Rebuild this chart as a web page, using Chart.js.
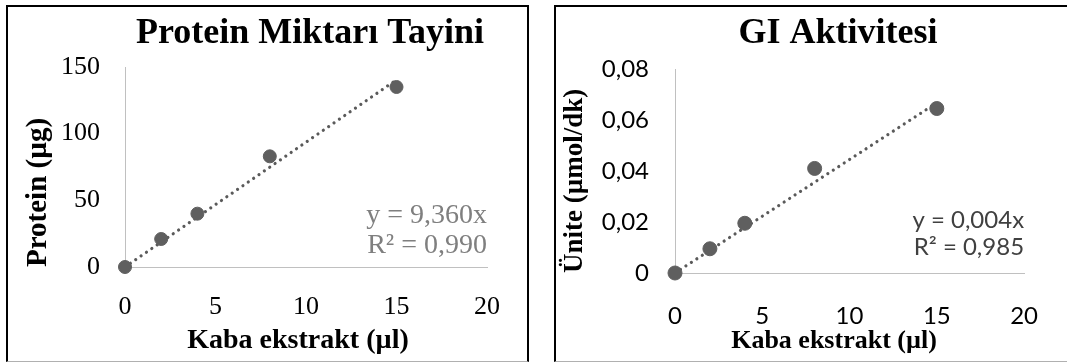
<!DOCTYPE html>
<html><head><meta charset="utf-8">
<script src="https://cdn.jsdelivr.net/npm/chart.js@4"></script>
<style>
html,body{margin:0;padding:0;background:#fff;width:1067px;height:362px;overflow:hidden;position:relative}
.box{position:absolute;border:2px solid #000;border-bottom:1px solid #b0b0b0;box-sizing:border-box}
.cv{position:absolute}
</style></head><body>
<div class="box" style="left:6px;top:5px;width:523px;height:357px"></div>
<div class="box" style="left:554px;top:5px;width:530px;height:357px"></div>
<canvas id="c1" class="cv" style="left:8px;top:8px" width="518" height="350"></canvas>
<canvas id="c2" class="cv" style="left:558px;top:8px" width="509" height="350"></canvas>
<script>
// ---- data ----
const extractVolumes = [0, 2, 4, 8, 15];
const proteinValues = [0, 21, 40, 83, 135];
const activityValues = [0, 0.0095, 0.0195, 0.041, 0.0645];
const proteinSlope = 9.36;
const activitySlope = 0.00445;
const trendRange = [0, 15];
const xTicks = [0, 5, 10, 15, 20];
const proteinTicks = [0, 50, 100, 150];
const activityTicks = [0, 0.02, 0.04, 0.06, 0.08];
const proteinTitle = 'Protein Miktarı Tayini';
const activityTitle = 'GI Aktivitesi';
const xTitle = 'Kaba ekstrakt (µl)';
const proteinYTitle = 'Protein (µg)';
const activityYTitle = 'Ünite (µmol/dk)';
const proteinEq = ['y = 9,360x', 'R² = 0,990'];
const activityEq = ['y = 0,004x', 'R² = 0,985'];

const SERIF = '"Liberation Serif", "Times New Roman", serif';
const SANS = 'Lato, "Noto Sans", sans-serif';

function textPlugin(cfg) {
  return {
    id: 'texts',
    afterDraw(chart) {
      const ctx = chart.ctx, ca = chart.chartArea;
      ctx.save();
      ctx.fillStyle = '#000';
      ctx.font = 'bold ' + cfg.titleSize + 'px ' + SERIF;
      ctx.textAlign = 'center'; ctx.textBaseline = 'middle';
      ctx.fillText(cfg.title, cfg.titleX, cfg.titleY);
      ctx.font = 'bold ' + cfg.xTitleSize + 'px ' + SERIF;
      ctx.fillText(xTitle, cfg.xTitleX, cfg.xTitleY);
      ctx.fillStyle = cfg.eqColor;
      ctx.font = cfg.eqSize + 'px ' + cfg.eqFont;
      ctx.textAlign = 'right';
      ctx.fillText(cfg.eq[0], ca.right, cfg.eqY[0]);
      ctx.fillText(cfg.eq[1], ca.right, cfg.eqY[1]);
      ctx.restore();
    }
  };
}

function makeChart(id, o) {
  const pts = extractVolumes.map((x, i) => ({x, y: o.values[i]}));
  const trend = trendRange.map(x => ({x, y: o.slope * x}));
  return new Chart(document.getElementById(id), {
    type: 'scatter',
    data: {datasets: [
      {type: 'line', data: trend, borderColor: '#5a5a5a', borderWidth: 3.2,
       borderDash: [0.01, 6.5], borderCapStyle: 'round', pointRadius: 0, fill: false, order: 2, clip: false},
      {data: pts, backgroundColor: '#5f5f5f', borderColor: '#5f5f5f', pointRadius: o.r, pointHoverRadius: o.r, order: 1, clip: false}
    ]},
    options: {
      responsive: false, animation: false, devicePixelRatio: 1,
      layout: {padding: {top: o.padTop, right: o.padRight, bottom: 0, left: 0}},
      plugins: {legend: {display: false}, tooltip: {enabled: false}, title: {display: false}},
      scales: {
        x: {type: 'linear', min: 0, max: 20,
          afterBuildTicks: s => { s.ticks = xTicks.map(v => ({value: v})); },
          afterFit: s => { s.height = o.xHeight; },
          grid: {display: false, drawTicks: false},
          border: {display: true, color: '#c0c0c0', width: 1},
          ticks: {padding: o.xTickPad, color: '#000', font: {family: o.tickFont, size: o.tickSize}, maxRotation: 0,
                  callback: v => String(v)}
        },
        y: {type: 'linear', min: 0, max: o.ticks[o.ticks.length - 1],
          afterBuildTicks: s => { s.ticks = o.ticks.map(v => ({value: v})); },
          afterFit: s => { s.width = 117; },
          grid: {display: false, drawTicks: false},
          border: {display: true, color: '#c0c0c0', width: 1},
          ticks: {padding: o.yTickPad, color: '#000', font: {family: o.tickFont, size: o.yTickSize},
                  callback: o.fmt},
          title: {display: true, text: o.yTitle, align: 'start', color: '#000',
                  font: {family: SERIF, size: o.yTitleSize, weight: 'bold'}, padding: {top: o.yTitlePad, bottom: 0}}
        }
      }
    },
    plugins: [textPlugin(o.text)]
  });
}

makeChart('c1', {
  values: proteinValues, slope: proteinSlope, ticks: proteinTicks, r: 6.5,
  padTop: 59, padRight: 39, xHeight: 91, xTickPad: 25, yTickPad: 25,
  tickFont: SERIF, tickSize: 26, yTickSize: 26,
  fmt: v => String(v),
  yTitle: proteinYTitle, yTitleSize: 29, yTitlePad: 13,
  text: {title: proteinTitle, titleSize: 36, titleX: 302, titleY: 26,
         xTitleSize: 28, xTitleX: 290, xTitleY: 333,
         eq: proteinEq, eqY: [208, 238], eqSize: 28, eqFont: SERIF, eqColor: '#7f7f7f'}
});

makeChart('c2', {
  values: activityValues, slope: activitySlope, ticks: activityTicks, r: 7,
  padTop: 61, padRight: 34, xHeight: 85, xTickPad: 29, yTickPad: 26,
  tickFont: SANS, tickSize: 24, yTickSize: 24,
  fmt: v => v === 0 ? '0' : v.toFixed(2).replace('.', ','),
  yTitle: activityYTitle, yTitleSize: 27, yTitlePad: 1,
  text: {title: activityTitle, titleSize: 36, titleX: 280, titleY: 26,
         xTitleSize: 26, xTitleX: 276, xTitleY: 333,
         eq: activityEq, eqY: [212, 239], eqSize: 24, eqFont: SANS, eqColor: '#404040'}
});
</script>
</body></html>
